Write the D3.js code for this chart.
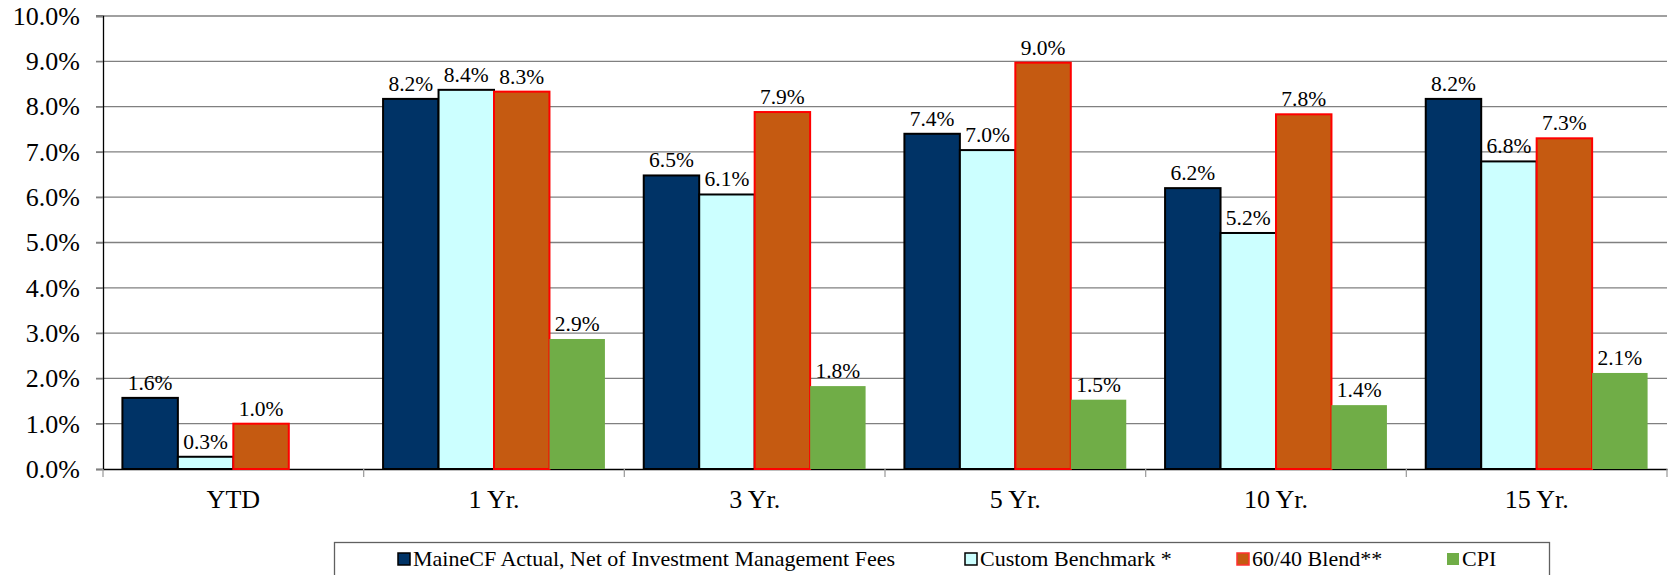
<!DOCTYPE html>
<html>
<head>
<meta charset="utf-8">
<script src="https://cdn.jsdelivr.net/npm/d3@7"></script>
<style>
  body { margin: 0; background: #fff; }
  text { font-family: "Liberation Serif", "Times New Roman", serif; fill: #000; }
</style>
</head>
<body>
<div id="chart"></div>
<script>
// periods along the x axis
const periods = ["YTD", "1 Yr.", "3 Yr.", "5 Yr.", "10 Yr.", "15 Yr."];

// series names (legend order)
const seriesNames = ["MaineCF Actual, Net of Investment Management Fees", "Custom Benchmark *", "60/40 Blend**", "CPI"];

// values in percent (null = no bar)
const maineCF   = [1.57, 8.17, 6.48, 7.40, 6.20, 8.17];
const customBm  = [0.27, 8.37, 6.06, 7.04, 5.21, 6.79];
const blend6040 = [1.00, 8.33, 7.88, 8.97, 7.83, 7.30];
const cpi       = [null, 2.87, 1.83, 1.53, 1.41, 2.12];

const yTicks = [0, 1, 2, 3, 4, 5, 6, 7, 8, 9, 10];

const width = 1669;
const height = 575;
const margin = {left: 103, right: 2, top: 16, bottom: 106};

const fills   = ["#003366", "#CCFFFF", "#C55A11", "#70AD47"];
const strokes = ["#000000", "#000000", "#FF0000", "none"];

const allSeries = [maineCF, customBm, blend6040, cpi];

const svg = d3.select("#chart")
  .append("svg")
  .attr("width", width)
  .attr("height", height);

// scales
const xScale = d3.scaleBand()
  .domain(periods)
  .range([margin.left, width - margin.right])
  .paddingInner(0)
  .paddingOuter(0);

const xInner = d3.scaleBand()
  .domain(d3.range(allSeries.length))
  .range([0, xScale.bandwidth()])
  .paddingInner(0)
  .paddingOuter(0.35);

const yScale = d3.scaleLinear()
  .domain([0, 10])
  .range([height - margin.bottom, margin.top]);

// gridlines
svg.append("g")
  .selectAll("line")
  .data(yTicks.filter(t => t > 0))
  .enter()
  .append("line")
    .attr("x1", margin.left - 7)
    .attr("x2", width - margin.right)
    .attr("y1", d => yScale(d))
    .attr("y2", d => yScale(d))
    .attr("stroke", "#808080")
    .attr("stroke-width", 1.3);

// y axis
const yAxis = svg.append("g")
  .attr("transform", `translate(${margin.left},0)`)
  .call(d3.axisLeft(yScale).tickValues(yTicks).tickFormat(d => d.toFixed(1) + "%").tickSize(7).tickPadding(16));
yAxis.select(".domain").attr("stroke", "#000").attr("stroke-width", 1.3);
yAxis.selectAll(".tick line").attr("stroke", "#808080").attr("stroke-width", 1.3);
yAxis.selectAll("text")
  .attr("font-size", "26px")
  .attr("font-family", "Liberation Serif, Times New Roman, serif");

// x axis
const xAxis = svg.append("g")
  .attr("transform", `translate(0,${yScale(0)})`)
  .call(d3.axisBottom(xScale).tickSize(0).tickPadding(21));
xAxis.select(".domain").attr("stroke", "#000").attr("stroke-width", 1.3);
xAxis.selectAll("text")
  .attr("font-size", "26px")
  .attr("font-family", "Liberation Serif, Times New Roman, serif");

// category separator ticks
svg.append("g")
  .selectAll("line")
  .data(d3.range(periods.length + 1))
  .enter()
  .append("line")
    .attr("x1", i => margin.left + i * xScale.step())
    .attr("x2", i => margin.left + i * xScale.step())
    .attr("y1", yScale(0))
    .attr("y2", yScale(0) + 8)
    .attr("stroke", "#A0A0A0")
    .attr("stroke-width", 1.3);

// bars
allSeries.forEach((vals, s) => {
  const g = svg.append("g");
  const pts = periods.map((p, i) => ({p: p, v: vals[i]})).filter(d => d.v !== null);

  g.selectAll("rect")
    .data(pts)
    .enter()
    .append("rect")
      .attr("x", d => xScale(d.p) + xInner(s))
      .attr("y", d => yScale(d.v))
      .attr("width", xInner.bandwidth())
      .attr("height", d => yScale(0) - yScale(d.v))
      .attr("fill", fills[s])
      .attr("stroke", strokes[s])
      .attr("stroke-width", 2);

  g.selectAll("text")
    .data(pts)
    .enter()
    .append("text")
      .attr("x", d => xScale(d.p) + xInner(s) + xInner.bandwidth() / 2)
      .attr("y", d => yScale(d.v) - 8)
      .attr("text-anchor", "middle")
      .attr("font-size", "21.5px")
      .text(d => d.v.toFixed(1) + "%");
});

// legend
const legend = svg.append("g");
legend.append("rect")
  .attr("x", 334.5)
  .attr("y", 542.5)
  .attr("width", 1215)
  .attr("height", 50)
  .attr("fill", "#fff")
  .attr("stroke", "#606060")
  .attr("stroke-width", 1.3);

const legendX = [397, 964, 1236, 1446];
seriesNames.forEach((name, s) => {
  legend.append("rect")
    .attr("x", legendX[s] + 1)
    .attr("y", 553)
    .attr("width", 12)
    .attr("height", 12)
    .attr("fill", fills[s])
    .attr("stroke", strokes[s] === "none" ? "none" : (s === 2 ? "#FF3030" : "#000"))
    .attr("stroke-width", 1.5);
  legend.append("text")
    .attr("x", legendX[s] + 16)
    .attr("y", 566)
    .attr("font-size", "22px")
    .text(name);
});
</script>
</body>
</html>
